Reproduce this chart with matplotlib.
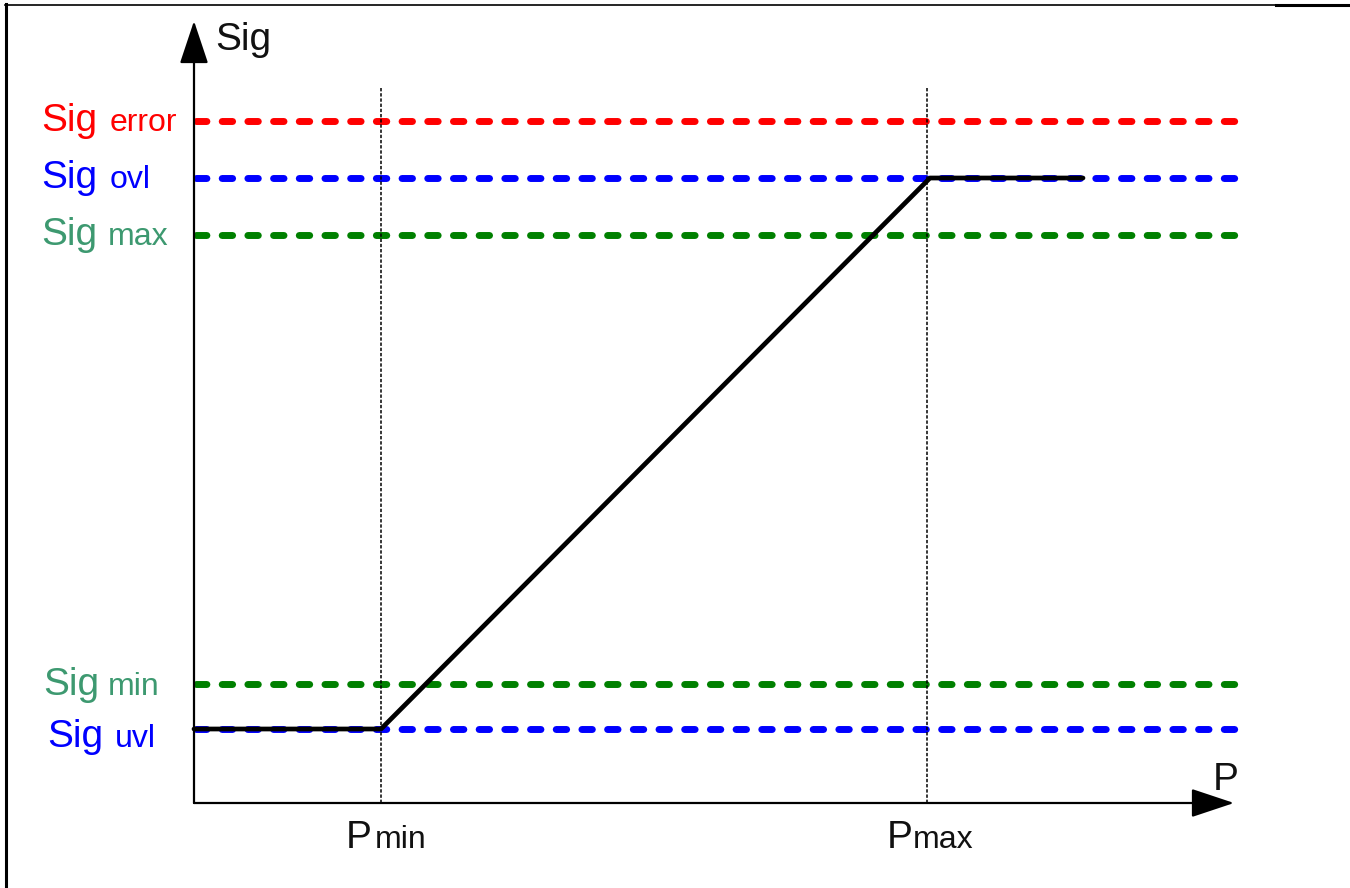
import matplotlib
matplotlib.use("Agg")
import matplotlib.pyplot as plt
from matplotlib.lines import Line2D

plt.rcParams['font.family'] = ['Liberation Sans', 'DejaVu Sans']

# ---- data (units: schematic pixels from the origin) ----
level_names = ['error', 'ovl', 'max', 'min', 'uvl']
level_values = [682, 625, 568, 119, 74]
level_line_colors = ['#ff0000', '#0000ff', '#008000', '#008000', '#0000ff']
level_text_colors = ['#ff0000', '#0000ff', '#3d9970', '#3d9970', '#0000ff']

p_names = ['min', 'max']
p_values = [187, 733]

curve_x = [0, 187, 736, 889]
curve_y = [74, 74, 625, 625]

x_extent = 1041
y_extent = 783
level_line_end = 1043
vline_top = 716

# label layout (offsets in pixels)
label_main_dx = [-153, -153, -153, -151, -147]
label_sub_dx = [-84, -84, -86, -86, -79]
label_dy = [-10, -10, -10, -11, -18]
p_main_dx = [-35, -40]
p_sub_dx = [-6, -14]

W, H = 1350, 888
fig = plt.figure(figsize=(W / 100, H / 100), dpi=100)
ax = fig.add_axes([194 / W, 85 / H, x_extent / W, y_extent / H])
ax.set_xlim(0, x_extent)
ax.set_ylim(0, y_extent)
ax.axis('off')

MAIN = 28
SUB = 23

# level lines
for val, col in zip(level_values, level_line_colors):
    ax.plot([1.5, level_line_end], [val, val], color=col, lw=5,
            linestyle=(0, (1.5, 2.2)), dash_capstyle='round',
            clip_on=False, zorder=2)

# vertical dotted markers
for pv in p_values:
    ax.plot([pv, pv], [0, vline_top], color='black', lw=1.1,
            linestyle=(0, (2.2, 1.2)), clip_on=False, zorder=3)

# characteristic curve
ax.plot(curve_x, curve_y, color='black', lw=3.4, solid_capstyle='round',
        solid_joinstyle='round', clip_on=False, zorder=4)

# axes arrows
arrow_style = '-|>,head_length=27,head_width=9'
ax.annotate('', xy=(x_extent - 1, 0), xytext=(0, 0),
            arrowprops=dict(arrowstyle=arrow_style, mutation_scale=1,
                            lw=1.6, color='black', shrinkA=0, shrinkB=0),
            annotation_clip=False, zorder=5)
ax.annotate('', xy=(0, y_extent - 1), xytext=(0, 0),
            arrowprops=dict(arrowstyle=arrow_style, mutation_scale=1,
                            lw=1.6, color='black', shrinkA=0, shrinkB=0),
            annotation_clip=False, zorder=5)

# axis names
ax.annotate('Sig', xy=(0, y_extent), xytext=(21, -30), textcoords='offset pixels',
            fontsize=MAIN, ha='left', va='baseline', color='#111111',
            annotation_clip=False)
ax.annotate('P', xy=(x_extent, 0), xytext=(-22, 13), textcoords='offset pixels',
            fontsize=MAIN, ha='left', va='baseline', color='#111111',
            annotation_clip=False)

# level labels
for name, val, col, mdx, sdx, dy in zip(level_names, level_values, level_text_colors,
                                        label_main_dx, label_sub_dx, label_dy):
    ax.annotate('Sig', xy=(0, val), xytext=(mdx, dy), textcoords='offset pixels',
                fontsize=MAIN, ha='left', va='baseline', color=col,
                annotation_clip=False)
    ax.annotate(name, xy=(0, val), xytext=(sdx, dy), textcoords='offset pixels',
                fontsize=SUB, ha='left', va='baseline', color=col,
                annotation_clip=False)

# P labels
for name, pv, mdx, sdx in zip(p_names, p_values, p_main_dx, p_sub_dx):
    ax.annotate('P', xy=(pv, 0), xytext=(mdx, -45), textcoords='offset pixels',
                fontsize=MAIN, ha='left', va='baseline', color='#111111',
                annotation_clip=False)
    ax.annotate(name, xy=(pv, 0), xytext=(sdx, -45), textcoords='offset pixels',
                fontsize=SUB, ha='left', va='baseline', color='#111111',
                annotation_clip=False)

# outer frame fragments
fig.add_artist(Line2D([6 / W, 6 / W], [0, 1 - 4 / H], transform=fig.transFigure,
                      color='black', lw=2.2))
fig.add_artist(Line2D([5 / W, 1276 / W], [1 - 4.6 / H, 1 - 4.6 / H],
                      transform=fig.transFigure, color='black', lw=1.2))
fig.add_artist(Line2D([1276 / W, 1], [1 - 5.2 / H, 1 - 5.2 / H],
                      transform=fig.transFigure, color='black', lw=2.2))

fig.savefig('out.png', dpi=100, facecolor='white')
